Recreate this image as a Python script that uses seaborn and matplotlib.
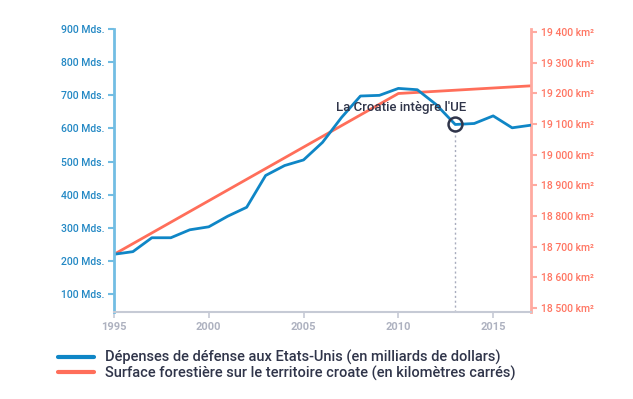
import numpy as np
import pandas as pd
import matplotlib
matplotlib.use("Agg")
import matplotlib.pyplot as plt
import seaborn as sns

# data
years = list(range(1995, 2018))
defense = [220, 228, 270, 270, 294, 303, 335, 362, 458, 488, 505, 558,
           633, 698, 700, 721, 717, 672, 612, 615, 638, 602, 610]
forest_years = [1995, 2010, 2017]
forest = [18675, 19200, 19225]

left_ticks = [100, 200, 300, 400, 500, 600, 700, 800, 900]
left_labels = [f"{v} Mds." for v in left_ticks]
right_ticks = [18500, 18600, 18700, 18800, 18900, 19000, 19100, 19200, 19300, 19400]
right_labels = [f"{v // 1000} {v % 1000:03d} km²" for v in right_ticks]
x_ticks = [1995, 2000, 2005, 2010, 2015]

event_year = 2013
event_label = "La Croatie intègre l'UE"
label_blue = "Dépenses de défense aux Etats-Unis (en milliards de dollars)"
label_red = "Surface forestière sur le territoire croate (en kilomètres carrés)"

BLUE = "#0f86c6"
BLUE_LABEL = "#2388c4"
BLUE_SPINE = "#72bde3"
RED = "#ff6e5a"
RED_LABEL = "#ff7562"
RED_SPINE = "#ffaaa0"
GREY = "#c6cad5"
GREY_LABEL = "#aeb2c0"
DARK = "#30354a"

sns.set_style("white")
plt.rcParams['font.family'] = ['Roboto', 'DejaVu Sans']

fig = plt.figure(figsize=(6.33, 3.99), dpi=100)
ax = fig.add_axes([0.180, 0.218, 0.659, 0.709])
ax2 = ax.twinx()

df_b = pd.DataFrame({"year": years, "value": defense})
df_r = pd.DataFrame({"year": forest_years, "value": forest})

sns.lineplot(data=df_r, x="year", y="value", ax=ax2, color=RED, linewidth=2, label=label_red, legend=False)
sns.lineplot(data=df_b, x="year", y="value", ax=ax, color=BLUE, linewidth=2, label=label_blue, legend=False)
ax.set_zorder(ax2.get_zorder() + 1)
ax.patch.set_visible(False)

ax.set_xlim(1995, 2017)
ax.set_ylim(45.7, 900)
ax2.set_ylim(18487, 19410)

ax.set_xlabel("")
ax.set_ylabel("")
ax2.set_ylabel("")

ax.set_yticks(left_ticks)
ax.set_yticklabels(left_labels, color=BLUE_LABEL, fontsize=7.5, fontweight="medium")
ax2.set_yticks(right_ticks)
ax2.set_yticklabels(right_labels, color=RED_LABEL, fontsize=7.5, fontweight="medium")
ax.set_xticks(x_ticks)
ax.set_xticklabels([str(x) for x in x_ticks], color=GREY_LABEL, fontsize=8, fontweight="bold")

ax.tick_params(axis="y", length=4, width=1.5, color=BLUE_SPINE, pad=3, left=True)
ax2.tick_params(axis="y", length=4, width=1.5, color=RED_SPINE, pad=3, right=True)
ax.tick_params(axis="x", length=4, width=1.2, color=GREY, pad=3, bottom=True)

for a in (ax, ax2):
    for s in a.spines.values():
        s.set_visible(False)
ax.spines["left"].set_visible(True)
ax.spines["left"].set_color(BLUE_SPINE)
ax.spines["left"].set_linewidth(2)
ax.spines["bottom"].set_visible(True)
ax.spines["bottom"].set_color(GREY)
ax.spines["bottom"].set_linewidth(1.5)
ax2.spines["right"].set_visible(True)
ax2.spines["right"].set_color(RED_SPINE)
ax2.spines["right"].set_linewidth(2)

# event marker
ev_val = defense[years.index(event_year)]
ax.plot([event_year, event_year], [45.7, ev_val - 12], color="#a8acbd", linewidth=1, linestyle=(0, (1.5, 2)))
ax.plot([event_year], [ev_val], marker="o", markersize=10, markerfacecolor="none",
        markeredgecolor=DARK, markeredgewidth=1.8)
ax.text(event_year + 0.6, ev_val + 52, event_label, ha="right", va="center",
        color=DARK, fontsize=9.5, fontweight="medium")

handles = [ax.get_lines()[0], ax2.get_lines()[0]]
leg = fig.legend(handles, [label_blue, label_red], loc="center left",
                 bbox_to_anchor=(0.0916, 0.084), frameon=False, fontsize=10.5,
                 handlelength=2.45, handletextpad=0.75, labelspacing=0.0,
                 borderpad=0, borderaxespad=0)
for t in leg.get_texts():
    t.set_color(DARK)
    t.set_fontweight("medium")
for l in leg.get_lines():
    l.set_linewidth(3)

fig.savefig("out.png", dpi=100)
